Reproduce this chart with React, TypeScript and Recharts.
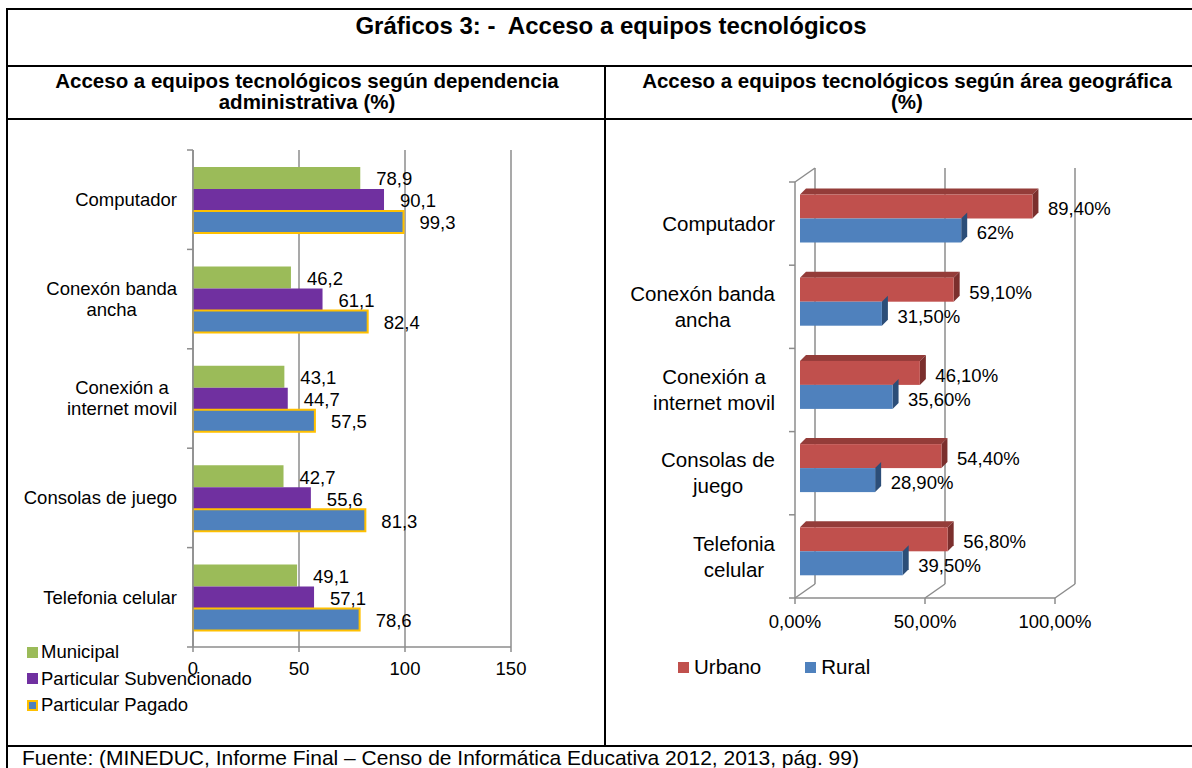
import React from 'react';
import { BarChart, Bar, XAxis, YAxis, CartesianGrid, LabelList, Legend } from 'recharts';

const categories = ['Computador', 'Conexón banda ancha', 'Conexión a internet movil', 'Consolas de juego', 'Telefonia celular'];

// según dependencia administrativa (%)
const municipal = [78.9, 46.2, 43.1, 42.7, 49.1];
const subvencionado = [90.1, 61.1, 44.7, 55.6, 57.1];
const pagado = [99.3, 82.4, 57.5, 81.3, 78.6];
const leftTicks = [0, 50, 100, 150];

// según área geográfica (%)
const urbano = [89.4, 59.1, 46.1, 54.4, 56.8];
const rural = [62, 31.5, 35.6, 28.9, 39.5];
const rightTicks = [0, 50, 100];

const FONT = '"Liberation Sans", Arial, Helvetica, sans-serif';
const GRAY = '#8c8c8c';

const leftSeries = [
  { key: 'municipal', name: 'Municipal', fill: '#9BBB59' },
  { key: 'subvencionado', name: 'Particular Subvencionado', fill: '#7030A0' },
  { key: 'pagado', name: 'Particular Pagado', fill: '#4F81BD', stroke: '#FFC000' },
];

const rightSeries = [
  { key: 'urbano', name: 'Urbano', fill: '#C0504D', top: '#943C39', side: '#7B2F2D' },
  { key: 'rural', name: 'Rural', fill: '#4F81BD', top: '#3A6494', side: '#2C4E78' },
];

const leftData = categories.map((name, i) => ({
  name,
  municipal: municipal[i],
  subvencionado: subvencionado[i],
  pagado: pagado[i],
}));

const rightData = categories.map((name, i) => ({ name, urbano: urbano[i], rural: rural[i] }));

// chart boxes (page coordinates come from these)
const L = { left: 8, top: 120, width: 596, height: 625, margin: { top: 30, right: 93, bottom: 68, left: 35 }, yw: 150, xh: 30 };
const R = { left: 606, top: 120, width: 586, height: 625, margin: { top: 62, right: 137, bottom: 117, left: 29 }, yw: 160, xh: 30 };
const plotH = (c: typeof L) => c.height - c.margin.top - c.margin.bottom - c.xh;

// 3d depth of the back wall and of the bars
const DEPTH: [number, number] = [20, -14];
const BAR_SHIFT: [number, number] = [5, -5.5];
const BAR_D = 6;

let ctx: CanvasRenderingContext2D | null = null;
function textWidth(s: string, font: string) {
  if (!ctx && typeof document !== 'undefined') ctx = document.createElement('canvas').getContext('2d');
  if (!ctx) return s.length * 9;
  ctx.font = font;
  return ctx.measureText(s).width;
}

function wrapWords(label: string, maxChars: number) {
  const lines: string[] = [];
  let cur = '';
  for (const w of label.split(' ')) {
    const next = cur ? cur + ' ' + w : w;
    if (next.length > maxChars && cur) {
      lines.push(cur);
      cur = w;
    } else cur = next;
  }
  if (cur) lines.push(cur);
  return lines;
}

type TickOpts = { fontSize: number; lineHeight: number; maxChars: number; margin: number; half: number; count: number; slant?: boolean };

function categoryTick(o: TickOpts) {
  return (props: any) => {
    const { x, y, payload } = props;
    const index = props.index ?? payload.index ?? 0;
    const axisX = x + o.margin;
    const lines = wrapWords(String(payload.value), o.maxChars);
    const font = `${o.fontSize}px ${FONT}`;
    const maxW = Math.max(...lines.map((l) => textWidth(l, font)));
    const cx = x - maxW / 2;
    const y0 = y - ((lines.length - 1) * o.lineHeight) / 2;
    const top = y - o.half;
    const bottom = y + o.half;
    return (
      <g>
        <line x1={axisX - 6} y1={top} x2={axisX} y2={top} stroke={GRAY} strokeWidth={1.5} />
        {index === o.count - 1 && <line x1={axisX - 6} y1={bottom} x2={axisX} y2={bottom} stroke={GRAY} strokeWidth={1.5} />}
        {o.slant && index === 0 && (
          <line x1={axisX} y1={top} x2={axisX + DEPTH[0]} y2={top + DEPTH[1]} stroke={GRAY} strokeWidth={1.5} />
        )}
        <text textAnchor="middle" fontSize={o.fontSize} fill="#000" fontFamily={FONT}>
          {lines.map((l, i) => (
            <tspan key={i} x={cx} y={y0 + i * o.lineHeight + o.fontSize * 0.35}>
              {l}
            </tspan>
          ))}
        </text>
      </g>
    );
  };
}

function barLabel(fmt: (v: number) => string, gap: number, dy: number, fontSize: number) {
  return (p: any) => {
    const vb = p.viewBox ?? p;
    const { x, y, width, height } = vb;
    return (
      <text x={x + width + gap} y={y + height / 2 + dy + fontSize * 0.35} fontSize={fontSize} fill="#000" fontFamily={FONT}>
        {fmt(Number(p.value))}
      </text>
    );
  };
}

const fmtLeft = (v: number) => v.toFixed(1).replace('.', ',');
const fmtRight = (v: number) => (Number.isInteger(v) ? `${v}%` : v.toFixed(2).replace('.', ',') + '%');
const fmtAxisRight = (v: number) => v.toFixed(2).replace('.', ',') + '%';

function bar3d(s: (typeof rightSeries)[number], drawTop: boolean) {
  return (p: any) => {
    const { x, y, width, height } = p;
    if (!width || width <= 0) return <g />;
    const fx = x + BAR_SHIFT[0];
    const fy = y + BAR_SHIFT[1];
    const r = fx + width;
    return (
      <g>
        {drawTop && <polygon points={`${fx},${fy} ${fx + BAR_D},${fy - BAR_D} ${r + BAR_D},${fy - BAR_D} ${r},${fy}`} fill={s.top} />}
        <polygon points={`${r},${fy} ${r + BAR_D},${fy - BAR_D} ${r + BAR_D},${fy + height - BAR_D} ${r},${fy + height}`} fill={s.side} />
        <rect x={fx} y={fy} width={width} height={height} fill={s.fill} />
      </g>
    );
  };
}

// back wall: vertical lines pushed back in depth, joined to the floor ticks
const depthGridLine = (p: any) => {
  const { x1, y1, y2 } = p;
  return (
    <g key={p.key}>
      <line x1={x1} y1={y2} x2={x1 + DEPTH[0]} y2={y2 + DEPTH[1]} stroke={GRAY} strokeWidth={1.5} />
      <line x1={x1 + DEPTH[0]} y1={y1 + DEPTH[1]} x2={x1 + DEPTH[0]} y2={y2 + DEPTH[1]} stroke={GRAY} strokeWidth={1.5} />
    </g>
  );
};

const LeftLegend = () => (
  <div style={{ fontFamily: FONT }}>
    {leftSeries.map((s) => (
      <div key={s.key} style={{ display: 'flex', alignItems: 'center', height: 26.5 }}>
        <span
          style={{
            display: 'inline-block',
            width: 11,
            height: 11,
            background: s.fill,
            border: s.stroke ? `2px solid ${s.stroke}` : 'none',
            boxSizing: 'border-box',
            marginRight: 3,
          }}
        />
        <span style={{ fontSize: 18.5, color: '#000' }}>{s.name}</span>
      </div>
    ))}
  </div>
);

const RightLegend = () => (
  <div style={{ display: 'flex', alignItems: 'center', fontFamily: FONT }}>
    {rightSeries.map((s, i) => (
      <div key={s.key} style={{ display: 'flex', alignItems: 'center', marginRight: i === 0 ? 44 : 0 }}>
        <span style={{ display: 'inline-block', width: 11, height: 11, background: s.fill, marginRight: 5 }} />
        <span style={{ fontSize: 20.5, color: '#000' }}>{s.name}</span>
      </div>
    ))}
  </div>
);

const hline = (top: number, left = 6, width = 1200) => (
  <div style={{ position: 'absolute', left, top, width, height: 2, background: '#000' }} />
);

export default function App() {
  const leftHalf = plotH(L) / categories.length / 2;
  const rightHalf = plotH(R) / categories.length / 2;

  return (
    <div style={{ position: 'relative', width: 1192, height: 768, overflow: 'hidden', background: '#fff', fontFamily: FONT, color: '#000' }}>
      <style>{'body{margin:0;}'}</style>

      {/* table frame */}
      {hline(8)}
      {hline(65)}
      {hline(118)}
      {hline(745)}
      <div style={{ position: 'absolute', left: 6, top: 8, width: 2, height: 760, background: '#000' }} />
      <div style={{ position: 'absolute', left: 604, top: 65, width: 2, height: 681, background: '#000' }} />

      <div style={{ position: 'absolute', left: 7, top: 11, width: 1208, textAlign: 'center', fontSize: 24, fontWeight: 'bold', lineHeight: '30px' }}>
        Gráficos 3: -&nbsp; Acceso a equipos tecnológicos
      </div>
      <div style={{ position: 'absolute', left: 8, top: 70, width: 598, textAlign: 'center', fontSize: 20.5, fontWeight: 'bold', lineHeight: '21px' }}>
        Acceso a equipos tecnológicos según dependencia
        <br />
        administrativa (%)
      </div>
      <div style={{ position: 'absolute', left: 606, top: 70, width: 602, textAlign: 'center', fontSize: 20.5, fontWeight: 'bold', lineHeight: '21px' }}>
        Acceso a equipos tecnológicos según área geográfica
        <br />
        (%)
      </div>

      {/* dependencia administrativa */}
      <div style={{ position: 'absolute', left: L.left, top: L.top }}>
        <BarChart width={L.width} height={L.height} data={leftData} layout="vertical" margin={L.margin} barCategoryGap={17} barGap={0}>
          <CartesianGrid horizontal={false} stroke={GRAY} strokeWidth={1.5} />
          <XAxis
            type="number"
            domain={[0, 150]}
            ticks={leftTicks}
            height={L.xh}
            axisLine={{ stroke: GRAY, strokeWidth: 1.5 }}
            tickLine={{ stroke: GRAY, strokeWidth: 1.5 }}
            tickSize={5}
            tickMargin={10}
            tick={{ fill: '#000', fontSize: 18.5 }}
          />
          <YAxis
            type="category"
            dataKey="name"
            width={L.yw}
            axisLine={{ stroke: GRAY, strokeWidth: 1.5 }}
            tickLine={false}
            tickSize={0}
            tickMargin={16}
            interval={0}
            tick={categoryTick({ fontSize: 18.5, lineHeight: 21, maxChars: 17, margin: 16, half: leftHalf, count: categories.length })}
          />
          {leftSeries.map((s) => (
            <Bar key={s.key} dataKey={s.key} name={s.name} fill={s.fill} stroke={s.stroke} strokeWidth={s.stroke ? 2 : 0} isAnimationActive={false}>
              <LabelList dataKey={s.key} content={barLabel(fmtLeft, 16, 1, 18.5)} />
            </Bar>
          ))}
          <Legend layout="vertical" align="center" verticalAlign="middle" wrapperStyle={{ left: 19, top: 519, width: 320 }} content={LeftLegend} />
        </BarChart>
      </div>

      {/* área geográfica */}
      <div style={{ position: 'absolute', left: R.left, top: R.top }}>
        <BarChart width={R.width} height={R.height} data={rightData} layout="vertical" margin={R.margin} barCategoryGap={18} barGap={0}>
          <CartesianGrid horizontal={false} vertical={depthGridLine} stroke={GRAY} />
          <XAxis
            type="number"
            domain={[0, 100]}
            ticks={rightTicks}
            height={R.xh}
            axisLine={{ stroke: GRAY, strokeWidth: 1.5 }}
            tickLine={{ stroke: GRAY, strokeWidth: 1.5 }}
            tickSize={6}
            tickMargin={11}
            tickFormatter={fmtAxisRight}
            tick={{ fill: '#000', fontSize: 18.5 }}
          />
          <YAxis
            type="category"
            dataKey="name"
            width={R.yw}
            axisLine={{ stroke: GRAY, strokeWidth: 1.5 }}
            tickLine={false}
            tickSize={0}
            tickMargin={20}
            interval={0}
            tick={categoryTick({ fontSize: 20.5, lineHeight: 26, maxChars: 14, margin: 20, half: rightHalf, count: categories.length, slant: true })}
          />
          {rightSeries.map((s, i) => (
            <Bar key={s.key} dataKey={s.key} name={s.name} fill={s.fill} shape={bar3d(s, i === 0)} isAnimationActive={false}>
              <LabelList dataKey={s.key} content={barLabel(fmtRight, 20.5, -3, 18.5)} />
            </Bar>
          ))}
          <Legend layout="vertical" align="center" verticalAlign="middle" wrapperStyle={{ left: 72, top: 535, width: 320 }} content={RightLegend} />
        </BarChart>
      </div>

      <div style={{ position: 'absolute', left: 22, top: 746, fontSize: 21, lineHeight: '24px', whiteSpace: 'nowrap' }}>
        Fuente: (MINEDUC, Informe Final – Censo de Informática Educativa 2012, 2013, pág. 99)
      </div>
    </div>
  );
}
